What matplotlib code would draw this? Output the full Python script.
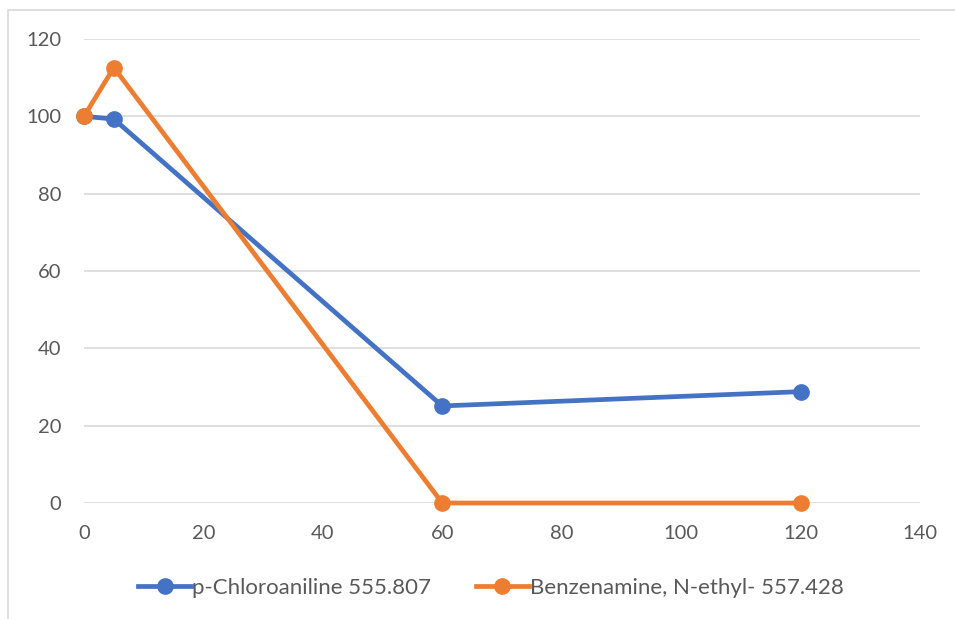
import matplotlib
matplotlib.use("Agg")
import matplotlib.pyplot as plt
from matplotlib.patches import Rectangle

x_chloro = [0, 5, 60, 120]
y_chloro = [100, 99.3, 25.1, 28.8]
x_benz = [0, 5, 60, 120]
y_benz = [100, 112.6, 0, 0]
labels = ["p-Chloroaniline 555.807", "Benzenamine, N-ethyl- 557.428"]
xticks = [0, 20, 40, 60, 80, 100, 120, 140]
yticks = [0, 20, 40, 60, 80, 100, 120]

plt.rcParams['font.family'] = ['Lato', 'DejaVu Sans']
W, H = 955, 619
fig = plt.figure(figsize=(W/100, H/100), dpi=100)
fig.patches.append(Rectangle((8/W, -0.1), 1.2, 1 - 9.5/H + 0.1, transform=fig.transFigure,
                             fill=False, edgecolor='#d9d9d9', linewidth=1.2))
ax = fig.add_axes([84/W, 1 - 503/H, (920-84)/W, (503-39)/H])
ax.set_xlim(0, 140)
ax.set_ylim(0, 120)
ax.set_xticks(xticks)
ax.set_yticks(yticks)
for s in ax.spines.values():
    s.set_visible(False)
ax.grid(axis='y', color='#d9d9d9', linewidth=1.2)
ax.set_axisbelow(True)
ax.tick_params(length=0, labelsize=14.5, labelcolor='#595959')
ax.tick_params(axis='y', pad=16.5)
ax.tick_params(axis='x', pad=16)

ax.plot(x_chloro, y_chloro, color='#4472C4', lw=3.4, marker='o', ms=11, label=labels[0],
        clip_on=False, zorder=3)
ax.plot(x_benz, y_benz, color='#ED7D31', lw=3.4, marker='o', ms=11, label=labels[1],
        clip_on=False, zorder=4)

leg = fig.legend(loc='center', bbox_to_anchor=(491/W, 1 - 588/H), ncol=2, frameon=False,
                 fontsize=16, labelcolor='#595959', handlelength=2.4, handletextpad=0.05,
                 columnspacing=2.0)
fig.savefig('out.png', dpi=100)
